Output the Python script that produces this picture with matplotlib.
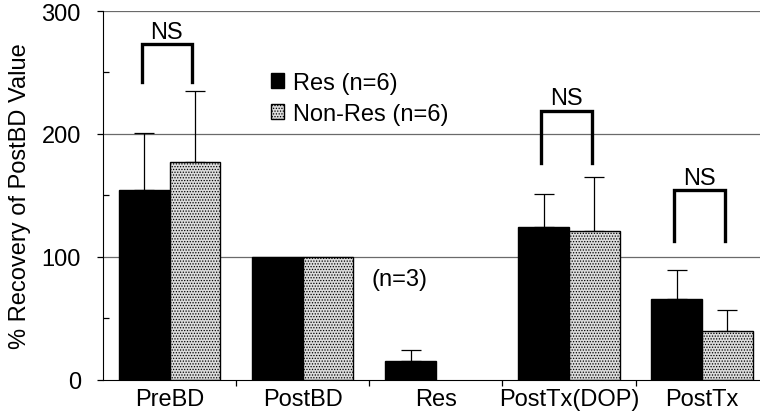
import numpy as np
import matplotlib
matplotlib.use('Agg')
import matplotlib.pyplot as plt
from matplotlib.patches import Patch

plt.rcParams['font.family'] = ['Liberation Sans', 'DejaVu Sans']
plt.rcParams['hatch.linewidth'] = 0.6

# data
groups = ['PreBD', 'PostBD', 'Res', 'PostTx(DOP)', 'PostTx']
res_mean = [154, 100, 15, 124, 66]
res_err = [47, np.nan, 9, 27, 23]
nonres_mean = [177, 100, np.nan, 121, 40]
nonres_err = [58, np.nan, np.nan, 44, 17]

# NS brackets: group index, top of bracket, bottom of legs
ns_groups = [0, 3, 4]
ns_top = [273, 219, 154]
ns_leg = [242, 176, 113]

fig = plt.figure(figsize=(7.6, 4.14), dpi=100)
ax = fig.add_axes([0.1355, 0.0804, 0.8645, 0.8906])

x = np.arange(len(groups))
w = 0.38
fs = 17

res_mean = np.array(res_mean, dtype=float)
nonres_mean = np.array(nonres_mean, dtype=float)
res_err = np.array(res_err, dtype=float)
nonres_err = np.array(nonres_err, dtype=float)

# gridlines behind bars
for yv in [100, 200, 300]:
    ax.axhline(yv, color='#6a6a6a', lw=0.9, zorder=0)

ok = np.isfinite(res_mean)
ax.bar(x[ok] - w/2, res_mean[ok], w, color='black', edgecolor='black', lw=1, zorder=2)
ok = np.isfinite(nonres_mean)
ax.bar(x[ok] + w/2, nonres_mean[ok], w, color='#dcdcdc', edgecolor='black',
       hatch='......', lw=1, zorder=2)

# one-sided error bars
ok = np.isfinite(res_err)
ax.errorbar(x[ok] - w/2, res_mean[ok], yerr=[np.zeros(ok.sum()), res_err[ok]],
            fmt='none', ecolor='black', elinewidth=0.9, capsize=7, capthick=0.9, zorder=1)
ok = np.isfinite(nonres_err)
ax.errorbar(x[ok] + w/2, nonres_mean[ok], yerr=[np.zeros(ok.sum()), nonres_err[ok]],
            fmt='none', ecolor='black', elinewidth=0.9, capsize=7, capthick=0.9, zorder=1)

# NS brackets
for g, top, leg in zip(ns_groups, ns_top, ns_leg):
    xl = x[g] - 0.21
    xr = x[g] + 0.17
    ax.plot([xl, xl, xr, xr], [leg, top, top, leg], color='black', lw=2.4,
            solid_joinstyle='miter', zorder=3)
    ax.text((xl + xr) / 2, top + 10, 'NS', ha='center', va='center', fontsize=fs)

ax.text(1.73, 82, '(n=3)', ha='center', va='center', fontsize=fs)

handles = [Patch(facecolor='black', edgecolor='black'),
           Patch(facecolor='#dcdcdc', edgecolor='black', hatch='......')]
ax.legend(handles, ['Res (n=6)', 'Non-Res (n=6)'], loc='upper left',
          bbox_to_anchor=(0.255, 0.835), frameon=False, fontsize=fs,
          handlelength=0.55, handleheight=0.55, handletextpad=0.4,
          labelspacing=0.38, borderpad=0, borderaxespad=0)

ax.set_xlim(-0.5, 4.435)
ax.set_ylim(0, 300)

ax.spines['top'].set_visible(False)
ax.spines['right'].set_visible(False)

ax.set_yticks([0, 100, 200, 300])
ax.set_yticks([50, 150, 250], minor=True)
ax.tick_params(axis='y', which='major', direction='out', length=4, width=0.9, pad=12, labelsize=fs)
ax.tick_params(axis='y', which='minor', direction='in', length=4, width=0.9)

ax.set_xticks(x)
ax.set_xticklabels(groups)
ax.set_xticks(x[:-1] + 0.5, minor=True)
ax.tick_params(axis='x', which='major', length=0, pad=6, labelsize=fs)
ax.tick_params(axis='x', which='minor', direction='out', length=4, width=0.9)

ax.set_ylabel('% Recovery of PostBD Value', fontsize=fs)
ax.yaxis.set_label_coords(-0.11, 0.5)

fig.savefig('out.png', dpi=100)
